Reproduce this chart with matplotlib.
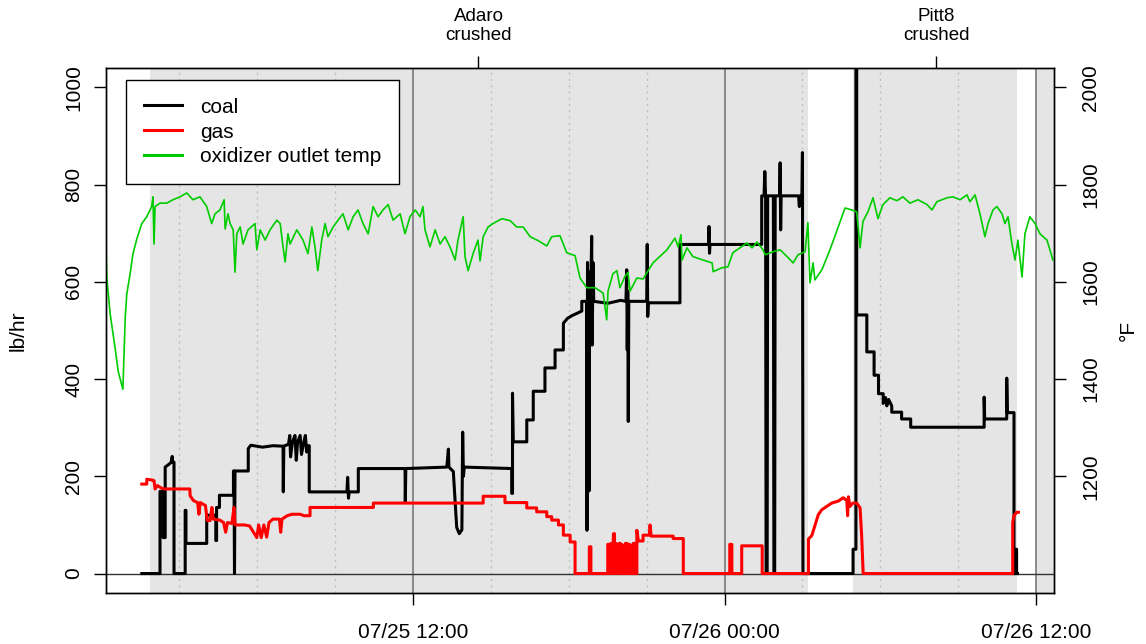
import matplotlib.pyplot as plt

# time axis: hours since 07/25 00:00
coal_h = [1.55, 2.25, 2.25, 2.37, 2.37, 2.45, 2.45, 2.60, 2.68, 2.72, 2.74, 2.79, 2.79, 3.22, 3.22, 3.25, 3.25,
          4.05, 4.05, 4.40, 4.40, 4.43, 4.43, 4.54, 4.54, 5.08, 5.08, 5.10, 5.12, 5.14, 5.65, 5.65, 5.75, 6.20,
          6.60, 6.99, 7.00, 7.02, 7.20, 7.25, 7.28, 7.35, 7.45, 7.50, 7.55, 7.65, 7.70, 7.78, 7.85, 7.90, 7.97,
          8.00, 8.00, 9.45, 9.48, 9.51, 9.54, 9.89, 9.89, 11.69, 11.70, 11.72, 13.30, 13.36, 13.38, 13.55, 13.62,
          13.68, 13.78, 13.88, 13.91, 13.94, 13.97, 15.80, 15.80, 15.83, 15.83, 15.86, 16.38, 16.38, 16.63, 16.63,
          17.08, 17.08, 17.47, 17.47, 17.79, 17.79, 17.95, 18.10, 18.30, 18.50, 18.50, 18.68, 18.70, 18.72, 18.74,
          18.76, 18.78, 18.80, 18.84, 18.88, 18.90, 18.93, 18.96, 19.50, 20.00, 20.20, 20.23, 20.25, 20.27, 20.29,
          20.31, 21.00, 21.02, 21.04, 21.06, 22.28, 22.28, 23.38, 23.40, 23.42, 23.44, 25.43, 25.43, 25.52, 25.55,
          25.58, 25.60, 25.64, 25.66, 25.88, 25.90, 25.93, 25.95, 26.12, 26.14, 26.16, 26.18, 26.85, 26.88, 26.92,
          26.98, 27.00, 27.02, 28.95, 28.95, 29.06, 29.06, 29.09, 29.09, 29.48, 29.48, 29.76, 29.76, 29.93, 29.93,
          30.11, 30.11, 30.20, 30.25, 30.32, 30.44, 30.44, 30.82, 30.82, 31.17, 31.17, 34.00, 34.00, 34.02, 34.87,
          34.87, 34.89, 35.15, 35.15, 35.22, 35.22, 35.25, 35.25, 35.28]
coal_lb = [0, 0, 169, 169, 74, 74, 219, 225, 229, 241, 229, 229, 0, 0, 130, 130, 62,
           62, 120, 120, 68, 68, 136, 136, 161, 161, 211, 211, 0, 211, 211, 257, 264, 260,
           263, 262, 168, 262, 266, 284, 240, 270, 284, 233, 270, 284, 245, 268, 284, 250, 263,
           263, 168, 168, 198, 155, 168, 168, 216, 216, 146, 216, 219, 256, 219, 210, 150,
           95, 82, 90, 291, 200, 219, 216, 165, 165, 371, 271, 271, 316, 316, 375,
           375, 423, 423, 460, 460, 515, 525, 530, 535, 540, 560, 560, 89, 640, 200,
           600, 170, 620, 560, 694, 470, 640, 560, 556, 562, 560, 625, 460, 580, 313,
           560, 560, 677, 529, 557, 557, 677, 677, 714, 659, 677, 677, 777, 777, 827,
           777, 0, 0, 777, 777, 0, 0, 777, 777, 845, 707, 777, 777, 755, 777,
           777, 866, 0, 0, 50, 50, 1100, 1100, 532, 532, 456, 456, 408, 408, 370,
           370, 350, 362, 345, 358, 345, 332, 332, 318, 318, 301, 301, 363, 318, 318,
           402, 331, 331, 0, 0, 50, 50, 0, 0]

gas_h = [1.55, 1.74, 1.74, 1.98, 2.02, 2.06, 2.15, 2.30, 2.40, 3.40, 3.41, 3.54, 3.70, 3.75, 3.80, 4.00, 4.07,
         4.18, 4.25, 4.30, 4.55, 4.70, 4.78, 4.85, 5.02, 5.10, 5.14, 5.50, 5.70, 5.98, 6.05, 6.15, 6.25, 6.36,
         6.45, 6.60, 6.85, 6.90, 6.95, 7.15, 7.33, 7.65, 7.80, 8.03, 8.03, 10.47, 10.47, 14.70, 14.70, 15.54,
         15.54, 16.38, 16.38, 16.76, 16.76, 17.15, 17.15, 17.34, 17.34, 17.60, 17.60, 17.79, 17.79, 18.05, 18.05,
         18.24, 18.24, 18.79, 18.79, 18.85, 18.85, 19.50, 19.50, 19.56, 19.56, 19.62, 19.62, 19.66, 19.72, 19.76,
         19.76, 19.82, 19.82, 19.87, 19.93, 19.98, 19.98, 20.05, 20.05, 20.10, 20.18, 20.18, 20.25, 20.25, 20.35,
         20.35, 20.40, 20.48, 20.48, 20.55, 20.55, 20.62, 20.62, 20.68, 20.86, 20.86, 21.10, 21.13, 21.17, 22.02,
         22.02, 22.41, 22.41, 24.20, 24.20, 24.28, 24.28, 24.66, 24.66, 25.45, 25.45, 27.23, 27.23, 27.36, 27.48,
         27.61, 27.74, 27.93, 28.13, 28.38, 28.57, 28.71, 28.74, 28.77, 28.83, 28.94, 29.09, 29.22, 29.28, 29.34,
         35.10, 35.10, 35.15, 35.25, 35.32]
gas_lb = [184, 184, 194, 192, 191, 174, 181, 176, 174, 174, 160, 150, 146, 122, 146, 140, 109,
          109, 136, 112, 110, 105, 85, 105, 103, 136, 100, 100, 98, 74, 100, 74, 100, 75,
          105, 112, 112, 85, 112, 119, 122, 122, 119, 119, 136, 136, 145, 145, 159, 159,
          146, 146, 135, 135, 127, 127, 117, 117, 110, 110, 100, 100, 79, 79, 65,
          65, 0, 0, 55, 55, 0, 0, 60, 60, 0, 0, 62, 0, 82, 82,
          0, 0, 62, 0, 62, 62, 0, 0, 60, 0, 0, 62, 62, 0, 0,
          60, 0, 0, 62, 62, 0, 0, 89, 67, 67, 79, 79, 100, 77, 77,
          72, 72, 0, 0, 60, 60, 0, 0, 57, 57, 0, 0, 71, 78, 99,
          121, 131, 138, 145, 149, 156, 150, 119, 158, 138, 145, 145, 135, 78, 0,
          0, 105, 119, 126, 126]

temp_h = [0.17, 0.20, 0.33, 0.52, 0.64, 0.82, 0.91, 0.97, 1.10, 1.21, 1.36, 1.55, 1.74, 1.93, 1.98, 2.02, 2.06,
          2.25, 2.51, 2.75, 3.02, 3.28, 3.52, 3.79, 4.05, 4.24, 4.37, 4.56, 4.72, 4.76, 4.87, 4.95, 5.07, 5.14,
          5.21, 5.34, 5.45, 5.64, 5.91, 5.98, 6.11, 6.30, 6.49, 6.75, 6.88, 6.99, 7.07, 7.18, 7.26, 7.52, 7.76,
          7.95, 8.10, 8.22, 8.33, 8.48, 8.61, 8.72, 8.92, 9.11, 9.30, 9.50, 9.69, 9.88, 10.07, 10.27, 10.46,
          10.65, 10.84, 11.04, 11.23, 11.50, 11.69, 11.88, 12.08, 12.27, 12.38, 12.46, 12.65, 12.85, 13.04, 13.23,
          13.42, 13.62, 13.73, 13.93, 14.00, 14.12, 14.31, 14.50, 14.58, 14.70, 14.89, 15.08, 15.42, 15.74, 15.99,
          16.24, 16.51, 16.81, 17.15, 17.34, 17.66, 17.92, 18.24, 18.43, 18.69, 19.01, 19.32, 19.46, 19.51, 19.70,
          19.85, 19.97, 20.17, 20.28, 20.36, 20.62, 20.86, 21.24, 21.78, 22.09, 22.21, 22.32, 22.36, 22.55, 22.78,
          23.17, 23.52, 23.56, 23.90, 24.13, 24.32, 24.59, 24.86, 25.06, 25.25, 25.48, 25.56, 25.87, 26.14, 26.41,
          26.64, 26.83, 27.10, 27.21, 27.29, 27.41, 27.48, 27.75, 28.06, 28.45, 28.64, 28.90, 29.09, 29.22, 29.33,
          29.52, 29.72, 29.91, 30.10, 30.37, 30.64, 30.87, 31.14, 31.45, 31.80, 31.99, 32.18, 32.57, 32.80, 33.07,
          33.34, 33.45, 33.65, 33.84, 34.03, 34.15, 34.34, 34.49, 34.69, 34.80, 34.92, 35.07, 35.19, 35.30, 35.46,
          35.57, 35.76, 35.96, 36.15, 36.42, 36.65]
temp_F = [1676, 1610, 1534, 1464, 1416, 1379, 1526, 1575, 1617, 1658, 1689, 1720, 1734, 1755, 1775, 1678, 1755,
          1762, 1762, 1769, 1775, 1783, 1769, 1775, 1755, 1720, 1740, 1748, 1769, 1709, 1740, 1720, 1707, 1620,
          1699, 1713, 1678, 1707, 1720, 1666, 1707, 1686, 1707, 1727, 1720, 1672, 1641, 1699, 1678, 1707, 1686,
          1658, 1713, 1672, 1623, 1686, 1720, 1693, 1713, 1727, 1740, 1707, 1734, 1748, 1720, 1699, 1755,
          1734, 1748, 1759, 1727, 1740, 1699, 1734, 1748, 1734, 1755, 1707, 1672, 1707, 1678, 1693,
          1672, 1645, 1686, 1734, 1652, 1623, 1658, 1686, 1643, 1693, 1713, 1720, 1730, 1726, 1713,
          1713, 1693, 1685, 1674, 1693, 1695, 1660, 1654, 1608, 1588, 1588, 1577, 1522, 1581, 1617,
          1623, 1588, 1612, 1619, 1581, 1608, 1606, 1639, 1666, 1690, 1672, 1697, 1645, 1670, 1652,
          1645, 1639, 1621, 1629, 1631, 1660, 1670, 1680, 1670, 1682, 1666, 1656, 1662, 1666, 1652,
          1639, 1656, 1662, 1722, 1598, 1639, 1604, 1625, 1666, 1724, 1752, 1748, 1744, 1670, 1724,
          1744, 1773, 1730, 1759, 1773, 1767, 1775, 1762, 1769, 1759, 1748, 1765, 1773, 1775, 1769,
          1779, 1765, 1779, 1740, 1693, 1720, 1748, 1755, 1740, 1720, 1734, 1678, 1645, 1686, 1610,
          1699, 1734, 1720, 1699, 1686, 1645]

shade_start = [1.87, 28.95, 36.0]
shade_end = [27.21, 35.27, 37.0]
minor_h = [3, 6, 9, 15, 18, 21, 27, 30, 33]
major_h = [12, 24, 36]
major_lab = ["07/25 12:00", "07/26 00:00", "07/26 12:00"]
event_h = [14.52, 32.15]
event_lab = ["Adaro\ncrushed", "Pitt8\ncrushed"]
lb_ticks = [0, 200, 400, 600, 800, 1000]
F_ticks = [1200, 1400, 1600, 1800, 2000]

plt.rcParams['font.family'] = ['Liberation Sans', 'DejaVu Sans']

fig = plt.figure(figsize=(11.46, 6.44), dpi=100)
ax = fig.add_axes([0.0925, 0.0792, 0.8272, 0.8152])

for s, e in zip(shade_start, shade_end):
    ax.axvspan(s, e, color='#e5e5e5', lw=0, zorder=0)
for h in minor_h:
    ax.axvline(h, color='#bebebe', ls=(0, (1.5, 3)), lw=1, zorder=1)
for h in major_h:
    ax.axvline(h, color='#707070', lw=1.1, zorder=1)
ax.axhline(0, color='#333333', lw=1, zorder=1)

l1, = ax.plot(coal_h, coal_lb, color='black', lw=2.2, label='coal', zorder=3)
l2, = ax.plot(gas_h, gas_lb, color='red', lw=2.2, label='gas', zorder=4)

ax2 = ax.twinx()
l3, = ax2.plot(temp_h, temp_F, color='#00cd00', lw=1.2, label='oxidizer outlet temp')

ax.set_xlim(0.17, 36.69)
ax.set_ylim(-40, 1040)
ax2.set_ylim(960, 2040)

ax.set_xticks(major_h, major_lab)
ax.tick_params(axis='x', length=8.5, width=1, labelsize=15, pad=13)

ax.set_yticks(lb_ticks, [str(v) for v in lb_ticks])
ax.tick_params(axis='y', length=8.5, width=1, labelsize=15, pad=8)
for lab in ax.get_yticklabels():
    lab.set_rotation(90)
    lab.set_rotation_mode('anchor')
    lab.set_ha('center')
    lab.set_va('bottom')

ax2.set_yticks(F_ticks, [str(v) for v in F_ticks])
ax2.tick_params(axis='y', length=8.5, width=1, labelsize=15, pad=11)
for lab in ax2.get_yticklabels():
    lab.set_rotation(90)
    lab.set_rotation_mode('anchor')
    lab.set_ha('center')
    lab.set_va('top')

top = ax.secondary_xaxis('top')
top.set_xticks(event_h, event_lab)
top.tick_params(length=8.5, width=1, labelsize=13.5, pad=9)
for lab in top.get_xticklabels():
    lab.set_linespacing(1.1)

ax.set_ylabel('lb/hr', fontsize=15)
ax.yaxis.set_label_coords(-0.093, 0.5)
ax.yaxis.label.set_va('center')
ax2.set_ylabel('°F', fontsize=15)
ax2.yaxis.set_label_coords(1.078, 0.5)
ax2.yaxis.label.set_va('center')

for sp in list(ax.spines.values()) + list(ax2.spines.values()):
    sp.set_linewidth(1.0)
top.spines['top'].set_visible(False)

leg = ax2.legend([l1, l2, l3], ['coal', 'gas', 'oxidizer outlet temp'], loc='upper left',
                 bbox_to_anchor=(0.021, 0.977), borderaxespad=0, fancybox=False, edgecolor='black',
                 framealpha=1, fontsize=15, handlelength=1.85, handletextpad=0.85, borderpad=0.85,
                 labelspacing=0.28)
leg.get_frame().set_linewidth(1.0)
for ln in leg.get_lines():
    ln.set_linewidth(2.2)

fig.savefig('out.png', dpi=100)
